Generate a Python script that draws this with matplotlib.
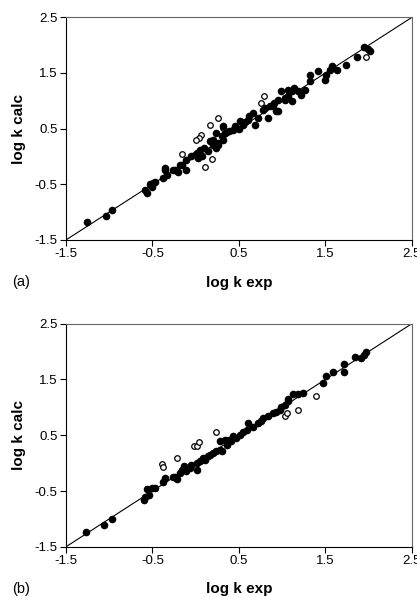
import matplotlib.pyplot as plt

plt.rcParams['font.family'] = ['Liberation Sans', 'DejaVu Sans']

# panel (a): filled = training set, open = outliers
exp_a = [-1.26, -1.04, -0.97, -0.58, -0.56, -0.53, -0.51, -0.49, -0.47, -0.38,
         -0.35, -0.33, -0.36, -0.26, -0.24, -0.20, -0.18, -0.16, -0.11, -0.11,
         -0.05, -0.01, 0.03, 0.01, 0.05, 0.07, 0.10, 0.14, 0.16, 0.20,
         0.20, 0.24, 0.24, 0.26, 0.26, 0.30, 0.32, 0.32, 0.34, 0.38,
         0.43, 0.45, 0.47, 0.50, 0.51, 0.55, 0.57, 0.61, 0.62, 0.66,
         0.68, 0.72, 0.78, 0.84, 0.80, 0.86, 0.89, 0.91, 0.93, 0.95,
         0.95, 0.99, 1.03, 1.03, 1.07, 1.07, 1.11, 1.11, 1.14, 1.18,
         1.22, 1.26, 1.32, 1.32, 1.41, 1.49, 1.51, 1.55, 1.57, 1.63,
         1.74, 1.86, 1.94, 1.99, 2.01]
calc_a = [-1.17, -1.07, -0.96, -0.60, -0.65, -0.50, -0.54, -0.47, -0.45, -0.39,
          -0.21, -0.33, -0.25, -0.24, -0.24, -0.27, -0.15, -0.15, -0.24, -0.07,
          0.00, 0.03, -0.02, 0.06, 0.12, 0.00, 0.15, 0.09, 0.27, 0.21,
          0.30, 0.15, 0.42, 0.24, 0.21, 0.36, 0.30, 0.54, 0.42, 0.45,
          0.48, 0.55, 0.52, 0.50, 0.63, 0.57, 0.62, 0.66, 0.72, 0.78,
          0.57, 0.69, 0.84, 0.69, 0.87, 0.90, 0.90, 0.96, 0.81, 0.81,
          1.02, 1.17, 1.02, 1.05, 1.08, 1.20, 1.17, 0.99, 1.23, 1.17,
          1.11, 1.20, 1.47, 1.35, 1.53, 1.38, 1.47, 1.56, 1.62, 1.56,
          1.65, 1.78, 1.96, 1.93, 1.90]
exp_a_out = [0.26, 0.17, 0.31, 0.06, 0.04, 0.00, -0.16, 0.19, 0.11, 0.75, 0.79, 1.97]
calc_a_out = [0.70, 0.56, 0.52, 0.39, 0.33, 0.29, 0.04, -0.05, -0.18, 0.96, 1.09, 1.78]

# panel (b)
exp_b = [-1.27, -1.06, -0.97, -0.60, -0.59, -0.54, -0.56, -0.51, -0.47, -0.38,
         -0.35, -0.26, -0.24, -0.22, -0.18, -0.16, -0.13, -0.11, -0.07, -0.05,
         0.01, 0.01, 0.05, 0.09, 0.11, 0.14, 0.17, 0.20, 0.24, 0.28,
         0.30, 0.28, 0.34, 0.36, 0.39, 0.41, 0.43, 0.47, 0.51, 0.55,
         0.59, 0.61, 0.66, 0.72, 0.76, 0.78, 0.84, 0.89, 0.93, 0.97,
         0.99, 1.03, 1.07, 1.07, 1.13, 1.18, 1.24, 1.47, 1.51, 1.59,
         1.71, 1.71, 1.84, 1.91, 1.97, 1.94]
calc_b = [-1.23, -1.11, -1.00, -0.66, -0.60, -0.57, -0.47, -0.45, -0.45, -0.33,
          -0.27, -0.24, -0.24, -0.29, -0.18, -0.13, -0.06, -0.15, -0.08, -0.03,
          0.00, -0.12, 0.03, 0.09, 0.06, 0.12, 0.15, 0.18, 0.21, 0.24,
          0.21, 0.39, 0.41, 0.33, 0.41, 0.39, 0.48, 0.45, 0.51, 0.55,
          0.60, 0.72, 0.65, 0.72, 0.75, 0.81, 0.84, 0.90, 0.92, 0.96,
          1.00, 1.05, 1.11, 1.14, 1.23, 1.23, 1.26, 1.44, 1.56, 1.64,
          1.77, 1.63, 1.91, 1.89, 1.99, 1.93]
exp_b_out = [-0.39, -0.38, -0.22, -0.02, 0.02, 0.04, 0.24, 1.03, 1.06, 1.18, 1.39]
calc_b_out = [-0.02, -0.07, 0.09, 0.31, 0.31, 0.37, 0.55, 0.85, 0.89, 0.95, 1.20]

ticks = [-1.5, -0.5, 0.5, 1.5, 2.5]
tick_labels = ['-1.5', '-0.5', '0.5', '1.5', '2.5']

fig = plt.figure(figsize=(4.17, 5.97), dpi=100)

panels = [
    ([0.158, 0.598, 0.830, 0.373], exp_a, calc_a, exp_a_out, calc_a_out, '(a)'),
    ([0.158, 0.084, 0.830, 0.374], exp_b, calc_b, exp_b_out, calc_b_out, '(b)'),
]

for rect, xs, ys, xo, yo, tag in panels:
    ax = fig.add_axes(rect)
    ax.plot([-1.5, 2.5], [-1.5, 2.5], color='black', lw=0.8, zorder=1)
    ax.scatter(xs, ys, s=20, color='black', zorder=3)
    ax.scatter(xo, yo, s=16, facecolors='white', edgecolors='black', linewidths=0.9, zorder=2)
    ax.set_xlim(-1.5, 2.5)
    ax.set_ylim(-1.5, 2.5)
    ax.set_xticks(ticks)
    ax.set_yticks(ticks)
    ax.set_xticklabels(tick_labels)
    ax.set_yticklabels(tick_labels)
    ax.tick_params(direction='out', length=4, width=0.8, labelsize=9.5, pad=2)
    for side in ['top', 'right']:
        ax.spines[side].set_color('#666666')
    for sp in ax.spines.values():
        sp.set_linewidth(0.8)
    ax.set_xlabel('log k exp', fontsize=11, fontweight='bold', labelpad=11)
    ax.set_ylabel('log k calc', fontsize=11, fontweight='bold', labelpad=6)
    ax.text(-0.155, -0.19, tag, transform=ax.transAxes, fontsize=10.5, va='center', ha='left')

fig.savefig('out.png', dpi=100)
